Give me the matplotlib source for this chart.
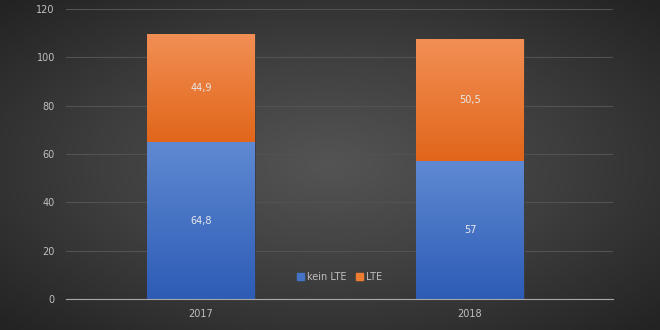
import numpy as np
import matplotlib.pyplot as plt
from matplotlib.colors import LinearSegmentedColormap
from matplotlib.patches import Patch

# data
years = ['2017', '2018']
kein_lte = [64.8, 57]
lte = [44.9, 50.5]
kein_labels = ['64,8', '57']
lte_labels = ['44,9', '50,5']

fig = plt.figure(figsize=(6.6, 3.3), dpi=100)

# radial dark background
bg = fig.add_axes([0, 0, 1, 1], zorder=-10)
yy, xx = np.mgrid[-1:1:330j, -1:1:660j]
r = np.sqrt(xx**2 + yy**2)
bg_cmap = LinearSegmentedColormap.from_list('bg', ['#545454', '#3e3e3e', '#232323'])
bg.imshow(r, cmap=bg_cmap, aspect='auto', extent=[0, 1, 0, 1], vmin=0, vmax=1.4)
bg.axis('off')

ax = fig.add_axes([0.1, 0.094, 0.829, 0.879])
ax.patch.set_alpha(0)

x = np.arange(len(years))
w = 0.4
blue = LinearSegmentedColormap.from_list('b', ['#2d5cb6', '#5f89d2'])
orange = LinearSegmentedColormap.from_list('o', ['#e1661a', '#f28f55'])
grad = np.linspace(0, 1, 256).reshape(-1, 1)

b1 = ax.bar(x, kein_lte, w, color='#4472c4', edgecolor='#3a3a3a', lw=0.6, zorder=2)
b2 = ax.bar(x, lte, w, bottom=kein_lte, color='#ed7d31', edgecolor='#3a3a3a', lw=0.6, zorder=2)
for bars, cm in ((b1, blue), (b2, orange)):
    for p in bars:
        x0, y0 = p.get_x(), p.get_y()
        im = ax.imshow(grad, cmap=cm, origin='lower', aspect='auto', zorder=3,
                       extent=[x0, x0 + p.get_width(), y0, y0 + p.get_height()])
        im.set_clip_path(p)

for i in x:
    ax.text(i, kein_lte[i] / 2, kein_labels[i], ha='center', va='center',
            color='#e8e8e8', fontsize=7, zorder=4)
    ax.text(i, kein_lte[i] + lte[i] / 2, lte_labels[i], ha='center', va='center',
            color='#e8e8e8', fontsize=7, zorder=4)

ax.set_xlim(-0.502, 1.532)
ax.set_ylim(0, 120)
ax.set_yticks(range(0, 121, 20))
ax.set_xticks(x)
ax.set_xticklabels(years)
ax.grid(axis='y', color='#525252', lw=0.8, zorder=0)
ax.set_axisbelow(True)
for s in ['top', 'right', 'left']:
    ax.spines[s].set_visible(False)
ax.spines['bottom'].set_color('#a8a8a8')
ax.spines['bottom'].set_zorder(5)
ax.tick_params(length=0, colors='#c0c0c0', labelsize=7)
ax.tick_params(axis='y', pad=8)
ax.tick_params(axis='x', pad=7)

ax.legend(handles=[Patch(color='#4472c4', label='kein LTE'), Patch(color='#ed7d31', label='LTE')],
          loc='center', bbox_to_anchor=(0.5, 0.075), ncol=2, frameon=False, fontsize=7,
          labelcolor='#c0c0c0', handlelength=0.7, handleheight=0.7, handletextpad=0.3,
          columnspacing=1.0)

fig.savefig('out.png', dpi=100)
